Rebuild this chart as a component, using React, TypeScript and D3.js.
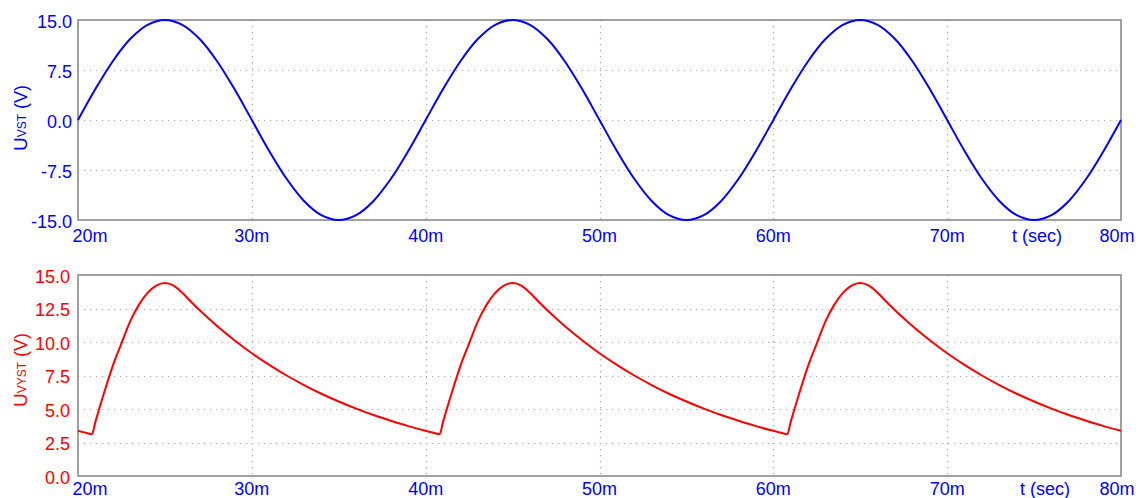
import { useEffect, useRef } from "react";
import * as d3 from "d3";

const W = 1145;
const H = 498;
const FONT = "'Liberation Sans', Arial, Helvetica, sans-serif";

// x axis (milliseconds)
const xTicks = [20, 30, 40, 50, 60, 70, 80];
const xTickLabels = ["20m", "30m", "40m", "50m", "60m", "70m", "80m"];

// y ticks
const vstTicks = [-15, -7.5, 0, 7.5, 15];
const vstTickLabels = ["-15.0", "-7.5", "0.0", "7.5", "15.0"];
const vystTicks = [0, 2.5, 5, 7.5, 10, 12.5, 15];
const vystTickLabels = ["0.0", "2.5", "5.0", "7.5", "10.0", "12.5", "15.0"];

// source voltage, one sample per ms from 20m to 80m
const vstTime = d3.range(20, 80.5, 1);
const vstVolts = [
  0, 4.64, 8.82, 12.14, 14.27, 15.0, 14.27, 12.14, 8.82, 4.64,
  0, -4.64, -8.82, -12.14, -14.27, -15.0, -14.27, -12.14, -8.82, -4.64,
  0, 4.64, 8.82, 12.14, 14.27, 15.0, 14.27, 12.14, 8.82, 4.64,
  0, -4.64, -8.82, -12.14, -14.27, -15.0, -14.27, -12.14, -8.82, -4.64,
  0, 4.64, 8.82, 12.14, 14.27, 15.0, 14.27, 12.14, 8.82, 4.64,
  0, -4.64, -8.82, -12.14, -14.27, -15.0, -14.27, -12.14, -8.82, -4.64,
  0,
];

// rectified output voltage
const vystTime = [
  20, 20.25, 20.5, 20.8, 21, 21.5, 22, 22.5, 23, 23.5, 24, 24.5, 25, 25.5, 26,
  26.5, 27, 27.5, 28, 29, 30, 31, 32, 33, 34, 35, 36, 37, 38, 39,
  40, 40.25, 40.5, 40.8, 41, 41.5, 42, 42.5, 43, 43.5, 44, 44.5, 45, 45.5, 46,
  46.5, 47, 47.5, 48, 49, 50, 51, 52, 53, 54, 55, 56, 57, 58, 59,
  60, 60.25, 60.5, 60.8, 61, 61.5, 62, 62.5, 63, 63.5, 64, 64.5, 65, 65.5, 66,
  66.5, 67, 67.5, 68, 69, 70, 71, 72, 73, 74, 75, 76, 77, 78, 79,
  80,
];
const vystVolts = [
  3.37, 3.29, 3.21, 3.12, 4.04, 6.21, 8.22, 9.9, 11.54, 12.77, 13.67, 14.21, 14.4, 14.21, 13.67,
  13.0, 12.37, 11.77, 11.19, 10.13, 9.16, 8.29, 7.5, 6.79, 6.14, 5.56, 5.03, 4.55, 4.12, 3.72,
  3.37, 3.29, 3.21, 3.12, 4.04, 6.21, 8.22, 9.9, 11.54, 12.77, 13.67, 14.21, 14.4, 14.21, 13.67,
  13.0, 12.37, 11.77, 11.19, 10.13, 9.16, 8.29, 7.5, 6.79, 6.14, 5.56, 5.03, 4.55, 4.12, 3.72,
  3.37, 3.29, 3.21, 3.12, 4.04, 6.21, 8.22, 9.9, 11.54, 12.77, 13.67, 14.21, 14.4, 14.21, 13.67,
  13.0, 12.37, 11.77, 11.19, 10.13, 9.16, 8.29, 7.5, 6.79, 6.14, 5.56, 5.03, 4.55, 4.12, 3.72,
  3.37,
];

const X0 = 78;
const X1 = 1121;

const panels = [
  {
    top: 20, bottom: 220, domain: [-15, 15], color: "#0000ff",
    ticks: vstTicks, tickLabels: vstTickLabels, labelRight: 72,
    xLabelDy: 22, tsecX: 1037, titleY: 118, sub: "VST",
    time: vstTime, volts: vstVolts, curve: d3.curveCatmullRom,
  },
  {
    top: 275, bottom: 476, domain: [0, 15], color: "#ff0000",
    ticks: vystTicks, tickLabels: vystTickLabels, labelRight: 70,
    xLabelDy: 19, tsecX: 1045, titleY: 370, sub: "VYST",
    time: vystTime, volts: vystVolts, curve: d3.curveMonotoneX,
  },
];

export default function App() {
  const ref = useRef<SVGSVGElement>(null);

  useEffect(() => {
    const svg = d3.select(ref.current);
    svg.selectAll("*").remove();
    svg.append("rect").attr("width", W).attr("height", H).attr("fill", "#fff");

    const x = d3.scaleLinear().domain([20, 80]).range([X0, X1]);

    panels.forEach((p) => {
      const y = d3.scaleLinear().domain(p.domain).range([p.bottom, p.top]);
      const g = svg.append("g").style("font-family", FONT);

      // dotted grid
      const inner = p.ticks.slice(1, -1);
      g.selectAll(".hgrid").data(inner).enter().append("line")
        .attr("x1", X0).attr("x2", X1)
        .attr("y1", (d) => Math.round(y(d)) + 0.5).attr("y2", (d) => Math.round(y(d)) + 0.5)
        .attr("stroke", "#a8a8a8").attr("stroke-width", 1.2)
        .attr("stroke-dasharray", "1.2 4.8");
      g.selectAll(".vgrid").data(xTicks.slice(1, -1)).enter().append("line")
        .attr("x1", (d) => Math.round(x(d)) + 0.5).attr("x2", (d) => Math.round(x(d)) + 0.5)
        .attr("y1", p.top).attr("y2", p.bottom)
        .attr("stroke", "#a8a8a8").attr("stroke-width", 1.2)
        .attr("stroke-dasharray", "1.2 4.8");

      // frame
      g.append("rect")
        .attr("x", X0).attr("y", p.top)
        .attr("width", X1 - X0).attr("height", p.bottom - p.top)
        .attr("fill", "none").attr("stroke", "#8a8a8a").attr("stroke-width", 1.6);

      // y tick labels
      g.selectAll(".ylab").data(p.ticks).enter().append("text")
        .attr("x", p.labelRight).attr("y", (d) => y(d) + 7.5)
        .attr("text-anchor", "end").attr("font-size", 18).attr("fill", p.color)
        .text((_, i) => p.tickLabels[i]);

      // x tick labels
      g.selectAll(".xlab").data(xTicks).enter().append("text")
        .attr("x", (d) => Math.min(Math.max(x(d), 90), 1117))
        .attr("y", p.bottom + p.xLabelDy)
        .attr("text-anchor", "middle").attr("font-size", 18).attr("fill", "#0000ff")
        .text((_, i) => xTickLabels[i]);

      g.append("text")
        .attr("x", p.tsecX).attr("y", p.bottom + p.xLabelDy)
        .attr("text-anchor", "middle").attr("font-size", 18).attr("fill", "#0000ff")
        .text("t (sec)");

      // y title
      const title = g.append("text")
        .attr("transform", `translate(27, ${p.titleY}) rotate(-90)`)
        .attr("text-anchor", "middle").attr("fill", p.color).attr("font-size", 19);
      title.append("tspan").text("U");
      title.append("tspan").attr("font-size", 12).attr("dy", -1).text(p.sub);
      title.append("tspan").attr("font-size", 18).attr("dy", 1).text(" (V)");

      // signal
      const line = d3.line<number>()
        .x((_, i) => x(p.time[i]))
        .y((d) => y(d))
        .curve(p.curve);
      g.append("path")
        .attr("d", line(p.volts))
        .attr("fill", "none").attr("stroke", p.color)
        .attr("stroke-width", 2).attr("stroke-linejoin", "round");
    });
  }, []);

  return (
    <svg
      ref={ref}
      width={W}
      height={H}
      style={{ position: "absolute", left: 0, top: 0, display: "block" }}
    />
  );
}
